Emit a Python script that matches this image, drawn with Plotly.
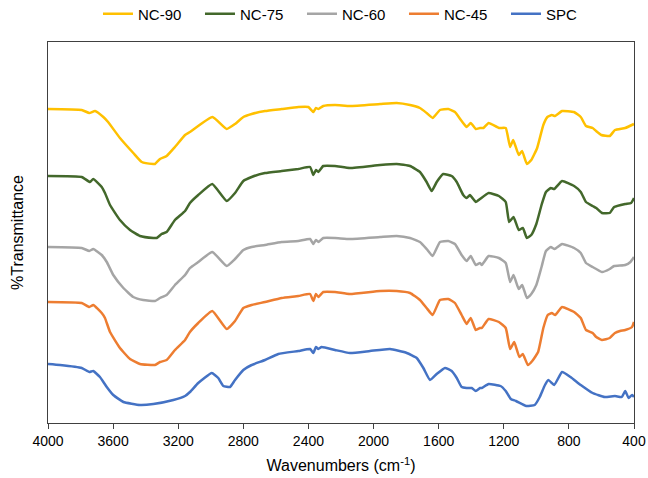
import plotly.graph_objects as go

# ---- data (wavenumber cm-1, offset %Transmittance, arbitrary units) ----
nc90_wn = [4000, 3793, 3746, 3711, 3660, 3631, 3558, 3476, 3424, 3353, 3343, 3312, 3271, 3220, 3158, 3128,
           2990, 2902, 2851, 2800, 2749, 2667, 2564, 2462, 2401, 2370, 2354, 2339, 2309, 2237, 2145, 1960,
           1858, 1776, 1715, 1674, 1637, 1592, 1541, 1500, 1459, 1428, 1403, 1372, 1346, 1325, 1293, 1229,
           1188, 1161, 1142, 1108, 1088, 1058, 1031, 995, 957, 932, 905, 885, 842, 769, 727, 695, 654, 633,
           601, 549, 517, 454, 400]
nc90_t = [314, 313, 310, 312, 306, 301, 285, 270, 261, 259, 259, 264, 267, 276, 288, 291,
          306, 294, 299, 306, 309, 312, 314, 316, 316, 311, 315, 314, 317, 318, 317, 319,
          320, 318, 315, 310, 305, 313, 314, 311, 302, 296, 300, 294, 295, 295, 300, 295,
          295, 276, 283, 268, 272, 259, 263, 275, 298, 306, 308, 307, 312, 311, 306, 297, 295, 292,
          288, 287, 293, 295, 299]

nc75_wn = [4000, 3793, 3742, 3722, 3670, 3650, 3619, 3558, 3496, 3435, 3353, 3332, 3302, 3271, 3220, 3158,
           3128, 3077, 2991, 2902, 2851, 2800, 2749, 2667, 2564, 2462, 2390, 2370, 2354, 2339, 2309, 2237,
           2145, 1960, 1858, 1776, 1715, 1674, 1643, 1612, 1572, 1520, 1489, 1449, 1428, 1408, 1371, 1346,
           1293, 1230, 1188, 1167, 1140, 1108, 1083, 1058, 1031, 1000, 968, 941, 911, 890, 842, 768, 727,
           695, 654, 632, 597, 549, 522, 454, 418, 400]
nc75_t = [247, 246, 241, 244, 236, 230, 218, 203, 193, 187, 185, 185, 189, 191, 203, 212,
          220, 228, 239, 222, 230, 242, 246, 250, 252, 254, 256, 248, 253, 251, 257, 257,
          255, 258, 259, 257, 251, 241, 232, 241, 249, 247, 241, 228, 225, 228, 221, 224,
          230, 227, 221, 201, 206, 193, 195, 185, 188, 199, 218, 231, 235, 234, 242, 237, 231,
          221, 217, 215, 210, 210, 216, 219, 220, 225]

nc60_wn = [4000, 3793, 3746, 3722, 3670, 3639, 3599, 3537, 3476, 3415, 3343, 3312, 3271, 3220, 3158, 3128,
           3077, 2991, 2902, 2851, 2800, 2749, 2667, 2564, 2462, 2390, 2370, 2354, 2339, 2309, 2237, 2145,
           1960, 1858, 1776, 1715, 1674, 1637, 1592, 1541, 1500, 1459, 1428, 1403, 1372, 1346, 1335, 1293,
           1230, 1188, 1161, 1140, 1108, 1087, 1058, 1031, 1000, 968, 941, 911, 888, 842, 768, 727, 695,
           654, 632, 597, 549, 522, 454, 422, 400]
nc60_t = [176, 175, 172, 174, 168, 161, 148, 135, 126, 123, 122, 125, 128, 138, 148, 155,
          161, 171, 157, 164, 173, 176, 178, 181, 182, 184, 179, 183, 181, 185, 185, 184,
          186, 187, 185, 181, 174, 167, 181, 182, 179, 168, 162, 167, 158, 160, 158, 167,
          165, 160, 141, 148, 134, 138, 125, 129, 138, 156, 172, 176, 174, 179, 175, 170, 160,
          156, 154, 151, 154, 157, 158, 161, 166]

nc45_wn = [4000, 3793, 3746, 3722, 3670, 3650, 3619, 3558, 3496, 3435, 3343, 3312, 3271, 3220, 3158, 3128,
           3077, 2991, 2902, 2851, 2800, 2749, 2667, 2564, 2462, 2390, 2370, 2354, 2339, 2309, 2237, 2145,
           1960, 1858, 1776, 1715, 1674, 1637, 1592, 1541, 1500, 1459, 1428, 1403, 1372, 1346, 1335, 1293,
           1230, 1188, 1161, 1136, 1104, 1083, 1052, 1025, 989, 957, 930, 905, 884, 842, 768, 727, 695,
           654, 632, 597, 549, 517, 486, 454, 412, 400]
nc45_t = [121, 120, 116, 118, 110, 105, 91, 75, 64, 59, 58, 61, 63, 73, 83, 91,
          100, 112, 94, 102, 115, 118, 121, 125, 127, 129, 122, 129, 126, 131, 131, 129,
          132, 132, 130, 123, 115, 108, 123, 124, 120, 108, 99, 105, 93, 95, 95, 104,
          101, 95, 74, 81, 66, 69, 58, 62, 71, 95, 108, 110, 108, 116, 111, 105, 93,
          90, 86, 83, 85, 90, 92, 93, 96, 101]

spc_wn = [4000, 3926, 3793, 3746, 3722, 3681, 3639, 3599, 3537, 3435, 3353, 3230, 3158, 3128, 3077, 2994,
          2954, 2923, 2882, 2851, 2800, 2749, 2667, 2585, 2462, 2390, 2370, 2354, 2339, 2319, 2237, 2145,
          2022, 1899, 1796, 1735, 1694, 1653, 1612, 1561, 1520, 1489, 1459, 1428, 1397, 1372, 1346, 1335,
          1293, 1220, 1188, 1157, 1125, 1062, 1010, 979, 947, 926, 890, 842, 790, 727, 654, 580, 517,
          475, 454, 433, 412, 400]
spc_t = [59, 58, 55, 51, 52, 46, 36, 28, 21, 18, 19, 23, 27, 31, 40, 50,
         45, 37, 36, 43, 53, 58, 63, 69, 72, 74, 70, 76, 74, 76, 73, 70,
         72, 74, 70, 65, 55, 43, 49, 55, 52, 45, 36, 35, 35, 32, 35, 35,
         39, 37, 32, 24, 22, 17, 18, 26, 38, 43, 38, 51, 46, 38, 30, 26, 27,
         26, 32, 25, 28, 26]

series = [
    ("NC-90", nc90_wn, nc90_t, "#FFC000"),
    ("NC-75", nc75_wn, nc75_t, "#43682B"),
    ("NC-60", nc60_wn, nc60_t, "#A5A5A5"),
    ("NC-45", nc45_wn, nc45_t, "#ED7D31"),
    ("SPC", spc_wn, spc_t, "#4472C4"),
]

x_ticks = [4000, 3600, 3200, 2800, 2400, 2000, 1600, 1200, 800, 400]

fig = go.Figure()
for name, wn, t, col in series:
    fig.add_trace(go.Scatter(x=wn, y=t, name=name, mode="lines",
                             line=dict(color=col, width=2.5, shape="spline", smoothing=0.4)))

fig.update_layout(
    width=648, height=478,
    margin=dict(l=48, r=14, t=42, b=55, autoexpand=False),
    paper_bgcolor="white", plot_bgcolor="white",
    font=dict(family="Liberation Sans, Arial, sans-serif", size=14, color="#000000"),
    showlegend=True,
    legend=dict(orientation="h", x=0.0853, xanchor="left", y=1.0735, yanchor="middle",
                font=dict(size=15), entrywidth=57, tracegroupgap=0,
                bgcolor="rgba(0,0,0,0)"),
    xaxis=dict(range=[4000, 400], tickvals=x_ticks, ticktext=[str(v) for v in x_ticks],
               automargin=False,
               showline=True, linecolor="#404040", linewidth=1, mirror=True,
               ticks="outside", ticklen=5, tickcolor="#404040", showgrid=False, zeroline=False,
               title=dict(text="Wavenumbers (cm<sup>-1</sup>)", font=dict(size=16), standoff=12),
               tickfont=dict(size=14)),
    yaxis=dict(range=[0, 381], showticklabels=False, ticks="", showgrid=False, zeroline=False,
               automargin=False,
               showline=True, linecolor="#404040", linewidth=1, mirror=True,
               title=dict(text="%Transmittance", font=dict(size=16), standoff=19)),
)

fig.write_html("out.html", config={"displayModeBar": False},
               post_script="document.body.style.margin='0';")
